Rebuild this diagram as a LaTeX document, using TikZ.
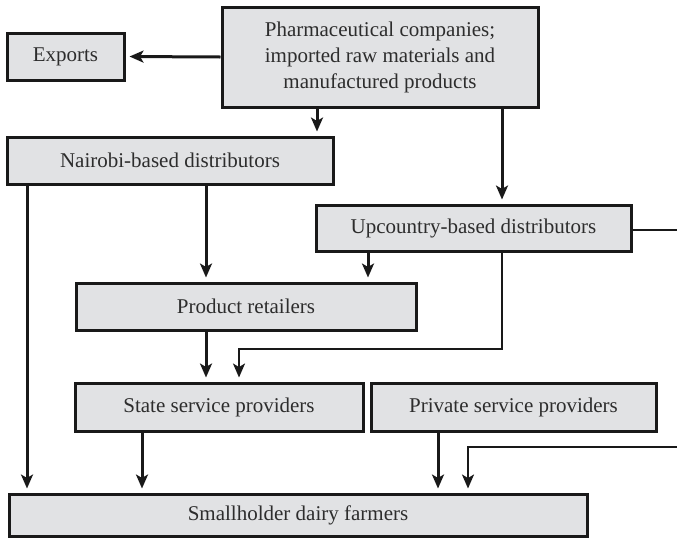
\documentclass[tikz,border=0pt]{standalone}
\usepackage{fontspec}
\setmainfont{Liberation Serif}
\usetikzlibrary{arrows.meta}
\definecolor{boxfill}{RGB}{225,226,228}
\definecolor{txt}{RGB}{45,45,45}
\begin{document}
\begin{tikzpicture}[x=1pt,y=-1pt,
  box/.style={draw=black!90, line width=3pt, fill=boxfill, inner sep=0pt,
    text=txt, align=center, font=\fontsize{21}{26}\selectfont},
  arr/.style={draw=black!90, line width=3pt, -{Stealth[length=14pt,width=12pt,inset=3.5pt]}, shorten >=4pt},
  thinarr/.style={draw=black!90, line width=2pt, -{Stealth[length=14pt,width=12pt,inset=3.5pt]}, shorten >=4pt},
  thinline/.style={draw=black!90, line width=2pt}]
\useasboundingbox (0,0) rectangle (677,539);
\node[box, minimum width=316pt, minimum height=100pt] (ph) at (380,57)
  {Pharmaceutical companies;\\imported raw materials and\\manufactured products};
\node[box, minimum width=117pt, minimum height=47pt] (ex) at (65.5,56.5) {Exports};
\node[box, minimum width=326pt, minimum height=47pt] (nb) at (170,160.5) {Nairobi-based distributors};
\node[box, minimum width=315pt, minimum height=46pt] (up) at (473.5,228) {Upcountry-based distributors};
\node[box, minimum width=340pt, minimum height=47pt] (pr) at (246,306.5) {Product retailers};
\node[box, minimum width=288pt, minimum height=48pt] (st) at (219,407) {State service providers};
\node[box, minimum width=285pt, minimum height=48pt] (pv) at (513.5,407) {Private service providers};
\node[box, minimum width=578pt, minimum height=42pt] (sm) at (298,515) {Smallholder dairy farmers};
\coordinate (rightA) at (677,230);
\coordinate (rightB) at (677,447);
% connectors
\draw[arr] (ph.west) -- (ex.east);
\draw[arr] (317,0 |- ph.south) -- (317,0 |- nb.north);
\draw[arr] (502,0 |- ph.south) -- (502,0 |- up.north);
\draw[arr] (27,0 |- nb.south) -- (27,0 |- sm.north);
\draw[arr] (206,0 |- nb.south) -- (206,0 |- pr.north);
\draw[arr] (368,0 |- up.south) -- (368,0 |- pr.north);
\draw[thinarr] (502,0 |- up.south) -- (502,349) -- (239,349) -- (239,0 |- st.north);
\draw[arr] (206,0 |- pr.south) -- (206,0 |- st.north);
\draw[arr] (142,0 |- st.south) -- (142,0 |- sm.north);
\draw[arr] (438,0 |- pv.south) -- (438,0 |- sm.north);
\draw[thinline] (up.east |- rightA) -- (rightA);
\draw[thinarr] (rightB) -- (468,447) -- (468,0 |- sm.north);
\end{tikzpicture}
\end{document}
